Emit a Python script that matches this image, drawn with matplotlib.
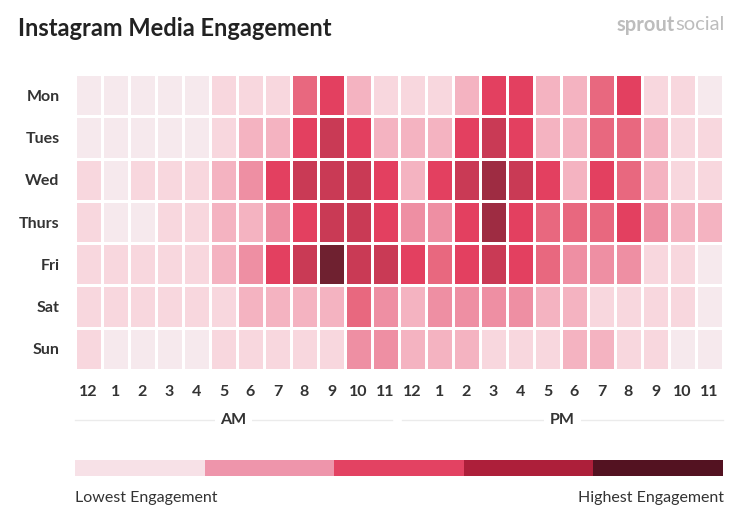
import matplotlib
matplotlib.use("Agg")
import matplotlib.pyplot as plt
import numpy as np
from matplotlib.colors import ListedColormap, BoundaryNorm
from matplotlib.lines import Line2D

plt.rcParams['font.family'] = ['Lato', 'DejaVu Sans']

days = ["Mon", "Tues", "Wed", "Thurs", "Fri", "Sat", "Sun"]
hours = ["12", "1", "2", "3", "4", "5", "6", "7", "8", "9", "10", "11",
         "12", "1", "2", "3", "4", "5", "6", "7", "8", "9", "10", "11"]

# engagement level per day (rows) and hour (columns), 0 = lowest, 8 = highest
mon   = [0, 0, 0, 0, 0, 1, 1, 1, 4, 5, 2, 1, 1, 1, 2, 5, 5, 2, 2, 4, 5, 1, 1, 0]
tues  = [0, 0, 0, 0, 0, 1, 2, 2, 5, 6, 5, 2, 2, 2, 5, 6, 5, 2, 2, 4, 4, 2, 1, 1]
wed   = [1, 0, 1, 1, 1, 2, 3, 5, 6, 6, 6, 5, 2, 5, 6, 7, 6, 5, 2, 5, 4, 2, 1, 1]
thurs = [1, 0, 0, 1, 1, 2, 2, 3, 5, 6, 6, 5, 3, 3, 5, 7, 5, 4, 4, 4, 5, 3, 2, 2]
fri   = [1, 1, 1, 1, 1, 2, 3, 5, 6, 8, 6, 6, 5, 4, 5, 6, 5, 4, 3, 3, 3, 1, 1, 0]
sat   = [1, 1, 1, 1, 1, 1, 2, 2, 2, 2, 4, 3, 2, 3, 3, 3, 3, 2, 2, 1, 1, 1, 1, 0]
sun   = [1, 0, 0, 0, 0, 1, 1, 1, 1, 1, 3, 3, 2, 2, 2, 1, 1, 1, 2, 2, 1, 1, 0, 0]

level_colors = ["#F6E9ED", "#F8D7DE", "#F4B3C1", "#EE8FA3", "#E8687F",
                "#E34060", "#C93A55", "#9E2C42", "#6F2130"]

legend_colors = ["#F7E1E7", "#EE95AB", "#E34262", "#AD1F3A", "#531221"]
legend_low = "Lowest Engagement"
legend_high = "Highest Engagement"
title = "Instagram Media Engagement"

W, H = 748, 523
fig = plt.figure(figsize=(W / 100, H / 100), dpi=100)
fig.patch.set_facecolor("white")

def fx(px):
    return px / W

def fy(py):
    return 1 - py / H

# title & logo
fig.text(fx(18), fy(28), title, fontsize=17, fontweight="bold", color="#222222",
         ha="left", va="center")
t1 = fig.text(fx(617), fy(25), "sprout", fontsize=14.5, fontweight="bold",
              color="#BDBDBD", ha="left", va="center")
fig.canvas.draw()
bb = t1.get_window_extent()
fig.text(bb.x1 / W, fy(25), "social", fontsize=14.5, color="#BDBDBD",
         ha="left", va="center")

# heatmap
data = np.array([mon, tues, wed, thurs, fri, sat, sun])
cmap = ListedColormap(level_colors)
norm = BoundaryNorm(np.arange(-0.5, len(level_colors) + 0.5), cmap.N)

left, right, top, bottom = 75, 723, 74, 370
ax = fig.add_axes([fx(left), fy(bottom), fx(right - left), (bottom - top) / H])
ax.pcolormesh(np.arange(len(hours) + 1), np.arange(len(days) + 1), data,
              cmap=cmap, norm=norm, edgecolors="white", linewidth=1.0)
ax.set_xlim(0, len(hours))
ax.set_ylim(len(days), 0)
ax.set_xticks(np.arange(len(hours)) + 0.5)
ax.set_xticklabels(hours, fontsize=11.5, fontweight="bold", color="#333333")
ax.set_yticks(np.arange(len(days)) + 0.5)
ax.set_yticklabels(days, fontsize=11.5, fontweight="bold", color="#333333")
ax.tick_params(length=0)
ax.tick_params(axis="x", pad=11)
ax.tick_params(axis="y", pad=11)
for s in ax.spines.values():
    s.set_visible(False)

# AM / PM dividers
line_y = fy(420)
for x0, x1, lab in [(75, 392, "AM"), (402, 723, "PM")]:
    fig.add_artist(Line2D([fx(x0), fx(x1)], [line_y, line_y], color="#EBEBEB",
                          linewidth=1, transform=fig.transFigure))
    fig.text(fx((x0 + x1) / 2), line_y, lab, fontsize=11.5, fontweight="bold",
             color="#333333", ha="center", va="center",
             bbox=dict(facecolor="white", edgecolor="none", pad=4))

# legend bar
lax = fig.add_axes([fx(75), fy(476), fx(648), 16 / H])
lcmap = ListedColormap(legend_colors)
lax.pcolormesh(np.arange(len(legend_colors) + 1), [0, 1],
               np.arange(len(legend_colors))[None, :], cmap=lcmap,
               vmin=-0.5, vmax=len(legend_colors) - 0.5)
lax.set_xlim(0, len(legend_colors))
lax.set_ylim(0, 1)
lax.axis("off")

fig.text(fx(75), fy(498), legend_low, fontsize=11.5, color="#333333",
         ha="left", va="center")
fig.text(fx(724), fy(498), legend_high, fontsize=11.5, color="#333333",
         ha="right", va="center")

fig.savefig("out.png", dpi=100, facecolor="white")
